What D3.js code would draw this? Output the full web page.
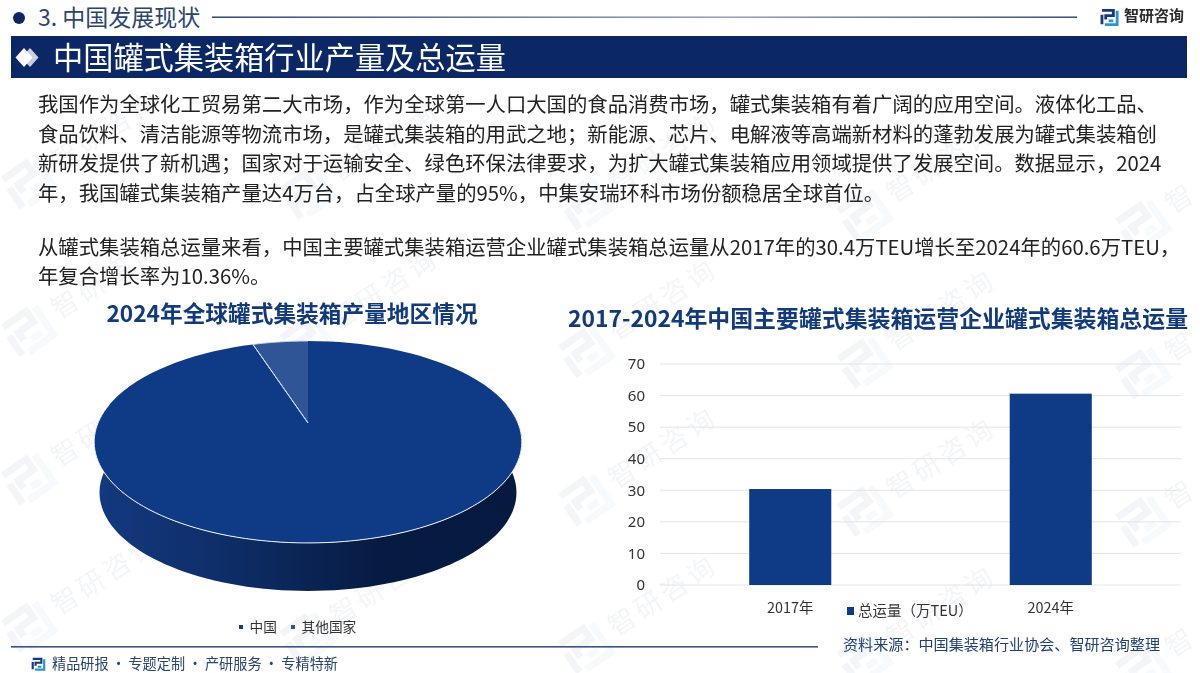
<!DOCTYPE html>
<html><head><meta charset="utf-8">
<script src="https://cdn.jsdelivr.net/npm/d3@7"></script>
<style>html,body{margin:0;background:#fff}svg{display:block}text{font-family:"Noto Sans CJK SC","Noto Sans",sans-serif}</style>
</head><body><svg id="c" width="1200" height="673"></svg>
<script>
const sectionTitle="3. 中国发展现状";
const pageTitle="中国罐式集装箱行业产量及总运量";
const para=["我国作为全球化工贸易第二大市场，作为全球第一人口大国的食品消费市场，罐式集装箱有着广阔的应用空间。液体化工品、",
"食品饮料、清洁能源等物流市场，是罐式集装箱的用武之地；新能源、芯片、电解液等高端新材料的蓬勃发展为罐式集装箱创",
"新研发提供了新机遇；国家对于运输安全、绿色环保法律要求，为扩大罐式集装箱应用领域提供了发展空间。数据显示，2024",
"年，我国罐式集装箱产量达4万台，占全球产量的95%，中集安瑞环科市场份额稳居全球首位。"];
const para2=["从罐式集装箱总运量来看，中国主要罐式集装箱运营企业罐式集装箱总运量从2017年的30.4万TEU增长至2024年的60.6万TEU，","年复合增长率为10.36%。"];
const pieTitle="2024年全球罐式集装箱产量地区情况";
const barTitle="2017-2024年中国主要罐式集装箱运营企业罐式集装箱总运量";
const regions=["中国","其他国家"];
const shares=[95,5];
const years=["2017年","2024年"];
const volumes=[30.4,60.6];
const yTicks=[0,10,20,30,40,50,60,70];
const barLegend="总运量（万TEU）";
const source="资料来源：中国集装箱行业协会、智研咨询整理";
const footer="精品研报\u2009·\u2009专题定制\u2009·\u2009产研服务\u2009·\u2009专精特新";
const wmText="智研咨询";

const navy="#0f3a85",head="#0b2765",mid="#2f5597",titleC="#133a7d";
const svg=d3.select("#c");
const defs=svg.append("defs");

function logo(g,s,c1,c2){
  const t=g.append("g").attr("transform",`scale(${s})`).attr("fill","none").attr("stroke-width",3);
  t.append("path").attr("d","M1 2.5H13V8H5V12M1 7V17").attr("stroke",c1);
  t.append("path").attr("d","M4 17.5H17V3M8 13.5H13").attr("stroke",c2);
}
// watermark: only characters that fit inside the page are drawn
const wm=svg.append("g").attr("opacity",.055);
const ang=-33*Math.PI/180, adv=31;
for(let c=0;c<5;c++)for(let r=-1;r<4;r++){
  const lx=27+c*278.5, ly=477+(lx-27)*.038+(r-1)*148;
  logo(wm.append("g").attr("transform",`translate(${lx},${ly}) rotate(-35) translate(-21,-21)`),2.35,"#2b4f8e","#5ea5d6");
  [...wmText].forEach((ch,i)=>{
    const px=lx+37+i*adv*Math.cos(ang), py=ly-26+i*adv*Math.sin(ang);
    if(px<22||px>1178||py<22||py>651) return;
    wm.append("text").attr("transform",`translate(${px},${py}) rotate(-33)`).attr("font-size",27)
      .attr("text-anchor","middle").attr("dominant-baseline","central").attr("fill","#2b4674").text(ch);
  });
}

// header
svg.append("circle").attr("cx",19).attr("cy",18).attr("r",6).attr("fill",head);
svg.append("text").attr("x",38).attr("y",26).attr("font-size",23).attr("fill","#2c4470").text(sectionTitle);
const lg=defs.append("linearGradient").attr("id","hl");
lg.append("stop").attr("offset",0).attr("stop-color","#1c3a72");
lg.append("stop").attr("offset",.6).attr("stop-color","#8d9ab3");
lg.append("stop").attr("offset",1).attr("stop-color","#27406f");
svg.append("rect").attr("x",212).attr("y",16.5).attr("width",865).attr("height",1.4).attr("fill","url(#hl)");
logo(svg.append("g").attr("transform","translate(1101,8)"),.95,"#15397c","#2f93cf");
svg.append("text").attr("x",1124).attr("y",21).attr("font-size",15).attr("font-weight",700).attr("fill","#2a2a33").text("智研咨询");
svg.append("rect").attr("x",11).attr("y",36).attr("width",1176).attr("height",42).attr("fill",head);
svg.append("path").attr("d","M30 48L38.5 57.5L30 67L21.5 57.5Z").attr("fill","#c9d0df");
svg.append("path").attr("d","M24 48L32.5 57.5L24 67L15.5 57.5Z").attr("fill","#fff");
svg.append("text").attr("x",53).attr("y",69).attr("font-size",30.2).attr("fill","#fff").text(pageTitle);

// paragraphs
svg.append("g").selectAll("text").data(para).join("text").attr("x",38).attr("y",(d,i)=>112+i*29.6)
 .attr("font-size",20.35).attr("fill","#222").text(d=>d);
svg.append("g").selectAll("text").data(para2).join("text").attr("x",38).attr("y",(d,i)=>255+i*29)
 .attr("font-size",20.35).attr("fill","#222").text(d=>d);
svg.append("text").attr("x",292).attr("y",322).attr("text-anchor","middle").attr("font-size",22.7).attr("font-weight",700).attr("fill",titleC).text(pieTitle);
svg.append("text").attr("x",878).attr("y",327).attr("text-anchor","middle").attr("font-size",22.9).attr("font-weight",700).attr("fill",titleC).text(barTitle);

// pie with perspective projection
const K=.188,W=210,H=97.4,CX=308,CY=423,DEPTH=51,SHR=.975;
const proj=(a,dy=0,s=1)=>{const c=Math.cos(a),d=1+K*c;return [CX+s*W*Math.sin(a)/d,CY+dy-s*H*c/d];};
const pie=d3.pie().sort(null).value(d=>d)(shares);
const line=d3.line();
const arcPts=(a0,a1,dy,s)=>d3.range(0,101).map(i=>proj(a0+(a1-a0)*i/100,dy,s));
const sg=defs.append("linearGradient").attr("id","side").attr("gradientUnits","userSpaceOnUse").attr("x1",94).attr("x2",522).attr("y1",0).attr("y2",0);
[[0,"#13397f"],[.3,"#0e2e69"],[.5,"#0a2353"],[.68,"#061b42"],[1,"#061a40"]].forEach(s=>sg.append("stop").attr("offset",s[0]).attr("stop-color",s[1]));
const a0=Math.PI/2-0.19,a1=Math.PI*1.5+0.19;
const wall=[...arcPts(a0,a1,0,1),...arcPts(a1,a0,DEPTH,SHR)];
svg.append("path").attr("d",line(wall)+"Z").attr("fill","url(#side)");
const fills=[navy,mid];
svg.append("g").selectAll("path").data(pie).join("path")
  .attr("d",d=>line([[CX,CY],...arcPts(d.startAngle,d.endAngle,0,1)])+"Z")
  .attr("fill",(d,i)=>fills[i]);
// slice edges and the bright front rim
const edge=svg.append("g").attr("fill","none").attr("stroke-linejoin","round");
edge.append("path").datum(pie[1]).attr("d",d=>line([...arcPts(d.startAngle,d.endAngle,0,1)].reverse().concat([[CX,CY]]).concat([proj(d.startAngle)])))
  .attr("stroke","#cddcf2").attr("stroke-width",1);
edge.append("path").attr("d",line(arcPts(a0,a1,0,1))).attr("stroke","#eef3fb").attr("stroke-width",1);

// pie legend
const legX=d3.scaleOrdinal().domain(regions).range([239,291]);
const pl=svg.append("g").selectAll("g").data(regions).join("g").attr("transform",d=>`translate(${legX(d)},627)`);
pl.append("rect").attr("y",-2).attr("width",4).attr("height",4).attr("fill",(d,i)=>fills[i]);
pl.append("text").attr("x",10.5).attr("y",5).attr("font-size",13.7).attr("fill","#333").text(d=>d);

// bars
const x=d3.scaleBand().domain(years).range([660,1181]).paddingInner(.685).paddingOuter(.3425);
const y=d3.scaleLinear().domain([0,70]).range([585,364]);
svg.append("g").selectAll("line").data(yTicks).join("line").attr("x1",660).attr("x2",1181).attr("y1",d=>y(d)).attr("y2",d=>y(d)).attr("stroke","#e2e4ea");
const ax=svg.append("g").attr("transform","translate(645,0)").call(d3.axisLeft(y).tickValues(yTicks).tickSize(0).tickPadding(0));
ax.select(".domain").remove();
ax.selectAll("text").style("font-family",'"Noto Sans","Noto Sans CJK SC",sans-serif').attr("font-size",15).attr("fill","#333");
svg.append("g").selectAll("rect").data(volumes).join("rect")
 .attr("x",(d,i)=>x(years[i])).attr("width",x.bandwidth()).attr("y",d=>y(d)).attr("height",d=>y(0)-y(d)).attr("fill",navy);
svg.append("g").selectAll("text").data(years).join("text").attr("x",d=>x(d)+x.bandwidth()/2).attr("y",613)
 .attr("text-anchor","middle").attr("font-size",14.4).attr("fill","#333").text(d=>d);
svg.append("rect").attr("x",847).attr("y",607).attr("width",7).attr("height",8).attr("fill",navy);
svg.append("text").attr("x",858).attr("y",616).attr("font-size",14.5).attr("fill","#333").text(barLegend);

// footer
svg.append("rect").attr("x",11).attr("y",646).attr("width",807).attr("height",1.6).attr("fill","#3a5389");
logo(svg.append("g").attr("transform","translate(32,657)"),.72,"#15397c","#2f93cf");
svg.append("text").attr("x",52).attr("y",669).attr("font-size",15).attr("textLength",286).attr("lengthAdjust","spacingAndGlyphs").attr("fill","#2c4470").text(footer);
svg.append("text").attr("x",843).attr("y",650).attr("font-size",15.1).attr("fill","#23407a").text(source);
</script></body></html>
